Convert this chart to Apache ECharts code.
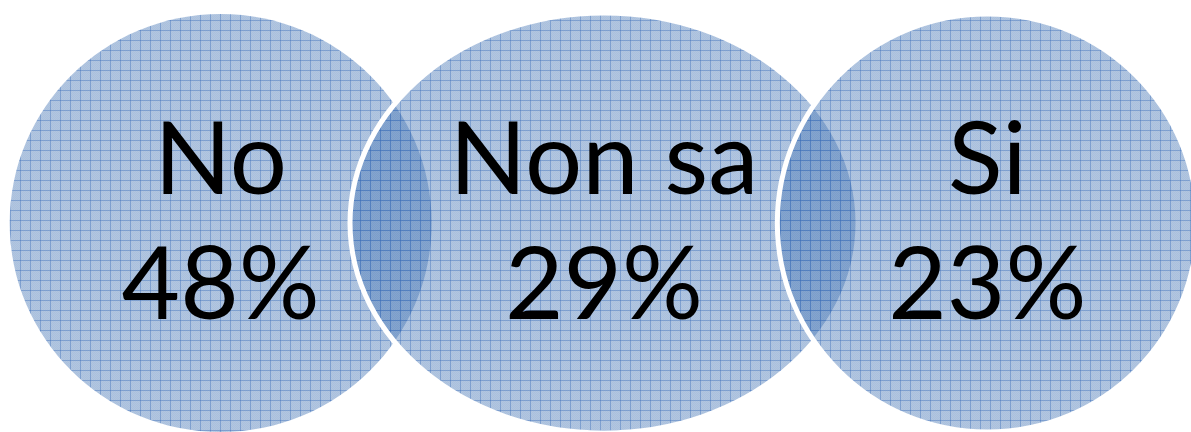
<!DOCTYPE html>
<html>
<head>
<meta charset="utf-8">
<title>No / Non sa / Si</title>
<script src="https://cdn.jsdelivr.net/npm/echarts@6/dist/echarts.min.js"></script>
<style>
  html, body { margin: 0; padding: 0; background: #fff; }
  #chart { width: 1191px; height: 432px; }
</style>
</head>
<body>
<div id="chart"></div>
<script>
// Answers and their shares (percent)
const categories = ['No', 'Non sa', 'Si'];
const shares = [48, 29, 23];

// Bubble radii in pixels [rx, ry]; the middle bubble is wider
const bubbleRadius = [[211, 209], [254, 210], [210, 209]];

// Small-grid fill tile: translucent blue with a fine dither and a darker grid line
function makeGridTile() {
  const size = 10;
  const c = document.createElement('canvas');
  c.width = size; c.height = size;
  const ctx = c.getContext('2d');
  ctx.fillStyle = 'rgba(72,118,182,0.42)';
  ctx.fillRect(0, 0, size, size);
  ctx.fillStyle = 'rgba(72,118,182,0.08)';
  for (let y = 0; y < size; y++) {
    for (let x = 0; x < size; x++) {
      if ((x + y) % 2 === 0) ctx.fillRect(x, y, 1, 1);
    }
  }
  ctx.fillStyle = 'rgba(60,110,185,0.42)';
  ctx.fillRect(0, 0, size, 1);
  ctx.fillRect(0, 0, 1, size);
  return c;
}
const gridTile = makeGridTile();

const chart = echarts.init(document.getElementById('chart'), null, { renderer: 'canvas' });

chart.setOption({
  animation: false,
  grid: { left: 29, right: 12, top: 0, bottom: 0 },
  xAxis: {
    type: 'category',
    data: categories,
    show: false,
    boundaryGap: true
  },
  yAxis: { type: 'value', min: 0, max: 1, show: false },
  series: [{
    type: 'custom',
    data: shares.map((v, i) => [i, v]),
    renderItem: function (params, api) {
      const i = api.value(0);
      const pct = api.value(1);
      const center = api.coord([i, 0.4838]);
      const r = bubbleRadius[i];
      return {
        type: 'group',
        children: [{
          type: 'ellipse',
          shape: { cx: center[0], cy: center[1], rx: r[0], ry: r[1] },
          z2: i,
          style: {
            fill: { image: gridTile, repeat: 'repeat' },
            stroke: i === 0 ? null : '#ffffff',
            lineWidth: i === 0 ? 0 : 5
          }
        }, {
          type: 'text',
          x: center[0],
          y: center[1] + 1,
          z2: 100,
          style: {
            text: categories[i] + '\n' + pct + '%',
            fontFamily: 'Lato',
            fontSize: 101,
            lineHeight: 125,
            fill: '#000000',
            align: 'center',
            verticalAlign: 'middle'
          }
        }]
      };
    }
  }]
});
</script>
</body>
</html>
